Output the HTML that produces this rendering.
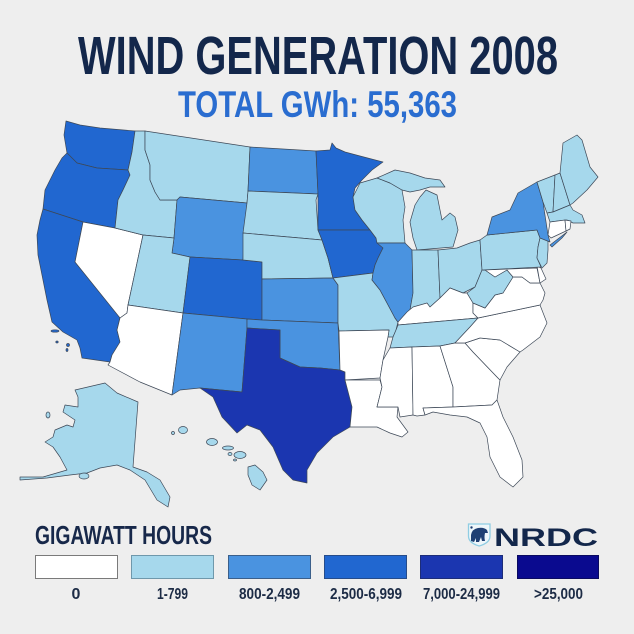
<!DOCTYPE html>
<html>
<head>
<meta charset="utf-8">
<style>
  html,body{margin:0;padding:0;background:#eeeeee;}
  svg{display:block;}
  .st{stroke:#3d4857;stroke-width:0.7;stroke-linejoin:round;}
  .w{fill:#ffffff;}
  .l{fill:#a6d8ec;}
  .m{fill:#4a93e0;}
  .d{fill:#2167d0;}
  .x{fill:#1b36b0;}
  .y{fill:#0a0a8f;}
  text{font-family:"Liberation Sans Narrow","Liberation Sans",sans-serif;font-weight:bold;}
</style>
</head>
<body>
<svg width="634" height="634" viewBox="0 0 634 634" xmlns="http://www.w3.org/2000/svg">
  <rect width="634" height="634" fill="#eeeeee"/>

  <!-- Titles -->
  <text x="78" y="74" font-size="54" fill="#13274b" textLength="480" lengthAdjust="spacingAndGlyphs">WIND GENERATION 2008</text>
  <text x="178" y="117" font-size="37" fill="#2a6dd0" textLength="279" lengthAdjust="spacingAndGlyphs">TOTAL GWh: 55,363</text>

  <!-- Map -->
  <g class="st">
    <!-- WA -->
    <polygon class="d" points="66,121 80,125 100,128 135,131 132,152 128,170 97,168 77,163 67,153 64,135"/>
    <!-- OR -->
    <polygon class="d" points="67,153 77,163 97,168 128,170 130,175 123,190 118,200 115,228 83,222 43,209 45,190 55,170 62,158"/>
    <!-- CA -->
    <polygon class="d" points="43,209 83,222 75,262 120,317 117,330 120,342 112,355 110,362 82,358 80,348 77,340 63,332 52,322 47,300 43,280 38,255 37,235 40,220"/>
    <!-- NV -->
    <polygon class="w" points="83,222 115,228 143,235 128,305 127,313 120,318 75,262"/>
    <!-- ID -->
    <polygon class="l" points="135,131 145,131 145,150 150,165 150,180 155,192 160,200 177,200 174,238 143,235 115,228 118,200 123,190 130,175 128,170 132,152"/>
    <!-- MT -->
    <polygon class="l" points="145,131 250,147 248,191 247,203 180,197 177,200 160,200 155,192 150,180 150,165 145,150"/>
    <!-- WY -->
    <polygon class="m" points="180,197 247,203 243,260 190,257 172,253 174,238 177,200"/>
    <!-- UT -->
    <polygon class="l" points="143,235 174,238 172,253 190,257 183,313 128,305"/>
    <!-- CO -->
    <polygon class="d" points="190,257 243,260 262,262 262,320 247,319 183,313"/>
    <!-- AZ -->
    <polygon class="w" points="128,305 183,313 172,395 140,382 108,365 110,362 112,355 120,342 117,330 120,318 127,313"/>
    <!-- NM -->
    <polygon class="m" points="183,313 247,319 247,328 242,392 200,388 180,390 172,395"/>
    <!-- ND -->
    <polygon class="m" points="250,147 316,151 318,194 248,191"/>
    <!-- SD -->
    <polygon class="l" points="248,191 318,194 316,200 318,230 322,240 300,238 243,233 247,203"/>
    <!-- NE -->
    <polygon class="l" points="243,233 300,238 322,240 328,258 333,278 262,279 262,262 243,260"/>
    <!-- KS -->
    <polygon class="m" points="262,279 333,278 338,285 338,323 262,320"/>
    <!-- OK -->
    <polygon class="m" points="247,319 262,320 338,323 340,370 320,368 300,367 280,358 280,330 247,328"/>
    <!-- TX -->
    <polygon class="x" points="247,328 280,330 280,358 300,367 320,368 340,370 345,372 345,380 352,407 350,427 333,437 317,453 307,470 307,483 293,480 283,470 273,447 260,430 247,425 237,433 222,417 213,397 200,388 242,392"/>
    <!-- MN -->
    <polygon class="d" points="316,151 330,150 332,143 336,148 345,152 360,156 383,162 372,170 362,180 355,188 353,197 355,210 362,220 370,230 318,230 318,194"/>
    <!-- IA -->
    <polygon class="d" points="318,230 370,230 376,238 383,248 378,258 375,265 373,273 333,278 328,258 322,240"/>
    <!-- MO -->
    <polygon class="l" points="333,278 373,273 372,280 380,290 387,303 395,318 398,322 396,330 393,337 388,337 389,330 339,331 338,323 338,285"/>
    <!-- AR -->
    <polygon class="w" points="339,331 389,330 388,337 383,360 380,378 345,380 345,372 340,370"/>
    <!-- LA -->
    <polygon class="w" points="345,380 380,380 382,387 377,407 398,407 397,417 408,432 402,437 390,433 377,427 350,427 352,407"/>
    <!-- WI -->
    <polygon class="l" points="360,183 377,178 390,183 402,190 405,207 403,220 405,243 377,243 376,238 370,230 362,220 355,210 353,197"/>
    <!-- IL -->
    <polygon class="m" points="377,243 405,243 412,250 413,293 410,310 405,320 400,325 395,318 387,303 380,290 372,280 373,273 375,265 378,258 383,248"/>
    <!-- MI UP -->
    <polygon class="l" points="377,178 395,170 410,173 425,178 440,180 445,187 430,187 420,190 410,192 402,190 390,183"/>
    <!-- MI LP -->
    <polygon class="l" points="410,222 415,205 420,197 426,190 437,195 440,210 442,220 450,213 455,217 458,230 453,247 417,250 413,238"/>
    <!-- IN -->
    <polygon class="l" points="412,250 438,250 440,298 430,307 410,310 413,293"/>
    <!-- OH -->
    <polygon class="l" points="438,250 457,248 470,243 480,240 482,270 475,287 463,293 450,288 440,298"/>
    <!-- KY -->
    <polygon class="w" points="398,325 398,322 407,312 413,307 427,303 430,307 440,298 450,288 463,293 467,293 473,303 473,313 478,318"/>
    <!-- TN -->
    <polygon class="l" points="398,325 478,318 470,327 455,343 440,346 412,347 390,348 393,337 396,330"/>
    <!-- MS -->
    <polygon class="w" points="390,348 412,347 413,415 400,417 398,407 377,407 382,387 380,378 383,360"/>
    <!-- AL -->
    <polygon class="w" points="412,347 440,346 453,387 453,407 423,408 425,415 417,416 413,415"/>
    <!-- GA -->
    <polygon class="w" points="440,346 455,343 465,343 473,352 497,377 500,380 497,400 492,405 453,407 453,387"/>
    <!-- FL -->
    <polygon class="w" points="423,408 453,407 492,405 497,400 503,417 513,437 522,460 523,477 513,487 500,477 490,457 487,437 480,423 467,417 450,415 433,412 425,415"/>
    <!-- SC -->
    <polygon class="w" points="465,343 480,338 500,340 520,352 507,367 500,380 497,377 473,352"/>
    <!-- NC -->
    <polygon class="w" points="478,318 540,305 547,323 540,337 523,350 520,352 500,340 480,338 465,343 455,343 470,327"/>
    <!-- VA -->
    <polygon class="w" points="473,303 485,308 495,295 503,293 513,277 522,277 530,283 540,283 545,293 543,300 540,305 478,318 473,313"/>
    <!-- WV -->
    <polygon class="l" points="482,270 485,270 495,277 507,270 513,277 503,293 495,295 485,308 473,303 467,293 475,287"/>
    <!-- MD -->
    <polygon class="w" points="483,270 537,268 540,283 530,283 522,277 513,277 507,270 495,277 485,270"/>
    <!-- DE -->
    <polygon class="w" points="537,266 541,268 546,279 540,283"/>
    <!-- PA -->
    <polygon class="l" points="480,240 487,235 537,230 540,238 538,247 537,258 541,267 483,270 482,270"/>
    <!-- NJ -->
    <polygon class="l" points="540,238 548,240 548,250 547,263 542,268 537,258 538,247"/>
    <!-- NY -->
    <polygon class="m" points="487,235 492,217 510,210 518,193 537,182 543,202 548,235 550,242 540,238 537,230"/>
    <polygon class="m" points="550,245 567,232 562,238 552,247"/>
    <!-- VT -->
    <polygon class="l" points="537,182 555,175 553,212 547,213 543,202"/>
    <!-- NH -->
    <polygon class="l" points="555,175 560,173 570,205 553,212"/>
    <!-- ME -->
    <polygon class="l" points="560,173 563,143 577,135 582,140 590,167 598,177 587,190 573,203 570,205"/>
    <!-- MA -->
    <polygon class="l" points="547,213 553,212 570,205 573,210 582,215 585,223 573,223 567,220 550,222"/>
    <!-- CT -->
    <polygon class="w" points="550,222 565,220 566,231 551,238 548,235"/>
    <!-- RI -->
    <polygon class="w" points="565,220 571,221 570,229 566,231"/>

    <!-- Channel islands -->
    <ellipse class="d" cx="55" cy="331" rx="4" ry="1.2"/>
    <ellipse class="d" cx="57" cy="342" rx="1.2" ry="1"/>
    <ellipse class="d" cx="68" cy="345" rx="1.5" ry="1.5"/>
    <ellipse class="d" cx="67" cy="350" rx="1" ry="1.5"/>

    <!-- Alaska -->
    <polygon class="l" points="75,390 105,383 117,393 138,402 133,467 147,472 160,480 170,497 168,507 157,500 145,480 130,470 117,465 100,468 87,473 70,475 47,478 20,480 20,477 43,477 67,470 60,457 53,447 45,442 53,437 55,430 67,425 73,427 75,420 63,412 65,405 78,407 78,397"/>
    <ellipse class="l" cx="84" cy="476" rx="5" ry="3"/>
    <ellipse class="l" cx="48" cy="415" rx="2" ry="3"/>

    <!-- Hawaii -->
    <ellipse class="l" cx="173" cy="433" rx="1.5" ry="1.5"/>
    <ellipse class="l" cx="183" cy="430" rx="4.5" ry="3.5"/>
    <ellipse class="l" cx="212" cy="442" rx="5.5" ry="3.5"/>
    <ellipse class="l" cx="228" cy="448" rx="5.5" ry="2"/>
    <ellipse class="l" cx="230" cy="454" rx="2" ry="1.5"/>
    <ellipse class="l" cx="240" cy="455" rx="6" ry="3.5"/>
    <ellipse class="l" cx="235" cy="460" rx="1.5" ry="1"/>
    <polygon class="l" points="248,467 255,465 263,472 267,480 260,490 252,485 248,475"/>
  </g>

  <!-- Legend -->
  <text x="35" y="544" font-size="26" fill="#17284a" textLength="177" lengthAdjust="spacingAndGlyphs">GIGAWATT HOURS</text>

  <rect x="35.5" y="555.5" width="82" height="23" fill="#ffffff" stroke="#7a7a7a" stroke-width="1"/>
  <rect x="131.5" y="555.5" width="82" height="23" fill="#a6d8ec" stroke="#6f98ab" stroke-width="1"/>
  <rect x="228.5" y="555.5" width="82" height="23" fill="#4a93e0" stroke="#3b5f8a" stroke-width="1"/>
  <rect x="324.5" y="555.5" width="82" height="23" fill="#2167d0" stroke="#264c8a" stroke-width="1"/>
  <rect x="420.5" y="555.5" width="82" height="23" fill="#1b36b0" stroke="#1d2d78" stroke-width="1"/>
  <rect x="517.5" y="555.5" width="81" height="23" fill="#0a0a8f" stroke="#0a0a60" stroke-width="1"/>

  <g font-size="16" fill="#1c2b45" text-anchor="middle">
    <text x="76" y="599">0</text>
    <text x="172.5" y="599" textLength="31" lengthAdjust="spacingAndGlyphs">1-799</text>
    <text x="269.5" y="599" textLength="61" lengthAdjust="spacingAndGlyphs">800-2,499</text>
    <text x="366" y="599" textLength="72" lengthAdjust="spacingAndGlyphs">2,500-6,999</text>
    <text x="461.5" y="599" textLength="77" lengthAdjust="spacingAndGlyphs">7,000-24,999</text>
    <text x="558.5" y="599" textLength="49" lengthAdjust="spacingAndGlyphs">&gt;25,000</text>
  </g>

  <!-- NRDC logo -->
  <g>
    <path d="M468.5,524 H490 V536 Q490,543 479.2,546 Q468.5,543 468.5,536 Z" fill="#eef6fa" stroke="#8fcde3" stroke-width="1.3"/>
    <path d="M471,535 Q472,529 478,528 Q484,527 487,530 L488,533 L485,533 Q484,537 485,541 L482,541 L481,537 L479,542 L476,542 L476,538 L474,542 L471,541 Z" fill="#1f3f73"/>
    <circle cx="471.5" cy="527.5" r="1.2" fill="#1f3f73"/>
    <text x="494" y="546" font-family="'Liberation Sans',sans-serif" font-size="25" fill="#13274b" textLength="104" lengthAdjust="spacingAndGlyphs">NRDC</text>
  </g>
</svg>
</body>
</html>
